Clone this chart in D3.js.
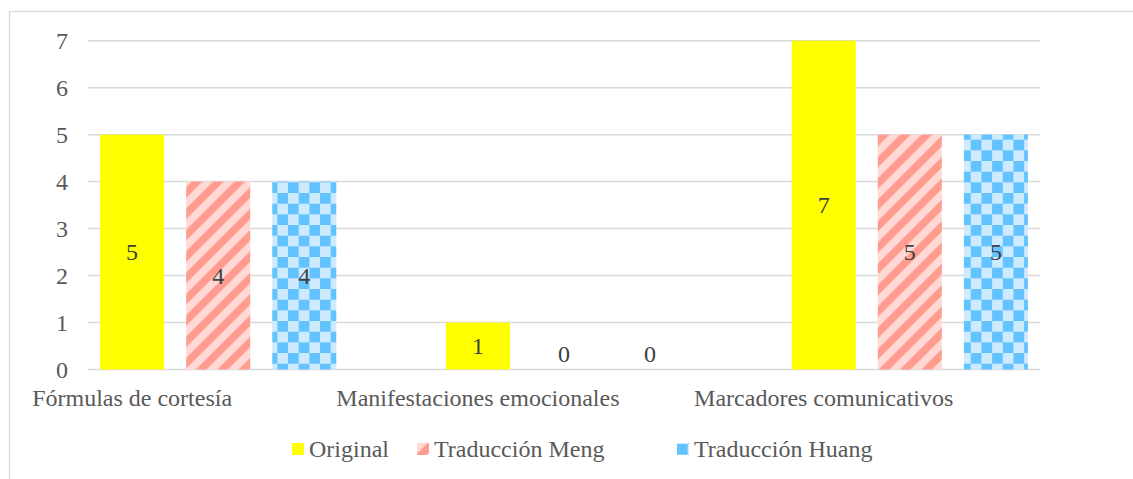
<!DOCTYPE html>
<html>
<head>
<meta charset="utf-8">
<script src="https://cdn.jsdelivr.net/npm/d3@7"></script>
<style>
  body { margin: 0; background: #fff; }
  svg { display: block; }
  svg text { font-family: "Liberation Serif", "Times New Roman", serif; }
</style>
</head>
<body>
<div id="okvir"></div>
<script>
// podatci
const kategorije = ["Fórmulas de cortesía", "Manifestaciones emocionales", "Marcadores comunicativos"];
const serije = ["Original", "Traducción Meng", "Traducción Huang"];
const original = [5, 1, 7];
const meng = [4, 0, 5];
const huang = [4, 0, 5];
const yTicks = [0, 1, 2, 3, 4, 5, 6, 7];

const vrijednosti = [original, meng, huang];

function crtaj() {
    const dim = {
        sirina: 1133,
        visina: 479,
        lijevo: 88,
        desno: 1040,
        vrh: 40.7,
        dno: 369.5
    };

    const svg = d3.select("#okvir")
        .append("svg")
            .attr("width", dim.sirina)
            .attr("height", dim.visina);

    // uzorci za ispunu
    const defs = svg.append("defs");

    const pruge = defs.append("pattern")
        .attr("id", "pruge")
        .attr("patternUnits", "userSpaceOnUse")
        .attr("width", 8).attr("height", 8)
        .attr("patternTransform", "scale(2.667)");
    pruge.append("rect").attr("width", 8).attr("height", 8).attr("fill", "#ffd9d5");
    pruge.append("polygon").attr("points", "4,0 8,0 0,8 0,4").attr("fill", "#ff9c8f");
    pruge.append("polygon").attr("points", "8,4 8,8 4,8").attr("fill", "#ff9c8f");

    const sah = defs.append("pattern")
        .attr("id", "sah")
        .attr("patternUnits", "userSpaceOnUse")
        .attr("width", 8).attr("height", 8)
        .attr("patternTransform", "translate(0,1) scale(2.667)");
    sah.append("rect").attr("width", 8).attr("height", 8).attr("fill", "#cdeaff");
    sah.append("rect").attr("width", 4).attr("height", 4).attr("fill", "#63c3ff");
    sah.append("rect").attr("x", 4).attr("y", 4).attr("width", 4).attr("height", 4).attr("fill", "#63c3ff");

    const boje = ["#ffff00", "url(#pruge)", "url(#sah)"];

    // okvir grafikona
    svg.append("rect")
        .attr("x", 9.5).attr("y", 11.5)
        .attr("width", 1200).attr("height", 600)
        .attr("fill", "none")
        .attr("stroke", "#d9d9d9")
        .attr("stroke-width", 1.3);

    const xSkala = d3.scaleBand()
        .domain(kategorije)
        .range([dim.lijevo, dim.desno])
        .paddingInner(0.317)
        .paddingOuter(0.035);

    const xUnutra = d3.scaleBand()
        .domain(serije)
        .range([0, xSkala.bandwidth()])
        .paddingInner(0.256);

    const ySkala = d3.scaleLinear()
        .domain([0, 7])
        .range([dim.dno, dim.vrh]);

    // mreza
    svg.append("g")
        .selectAll("line")
        .data(yTicks)
        .join("line")
            .attr("x1", dim.lijevo)
            .attr("x2", dim.desno)
            .attr("y1", d => ySkala(d))
            .attr("y2", d => ySkala(d))
            .attr("stroke", "#d9d9d9")
            .attr("stroke-width", 1.5);

    // y os
    const yOs = svg.append("g")
        .attr("transform", `translate(${dim.lijevo - 20},0)`)
        .call(d3.axisLeft(ySkala).tickValues(yTicks).tickFormat(d3.format("d")).tickSize(0).tickPadding(0));
    yOs.attr("font-family", null);
    yOs.select(".domain").remove();
    yOs.selectAll("text")
        .attr("font-size", 24)
        .attr("fill", "#595959")
        .attr("dy", "0.33em");

    // stupci
    serije.forEach((s, i) => {
        svg.append("g")
            .selectAll("rect")
            .data(kategorije)
            .join("rect")
                .attr("x", k => xSkala(k) + xUnutra(s))
                .attr("y", (k, j) => ySkala(vrijednosti[i][j]))
                .attr("width", xUnutra.bandwidth())
                .attr("height", (k, j) => ySkala(0) - ySkala(vrijednosti[i][j]))
                .attr("fill", boje[i]);

        // oznake vrijednosti
        svg.append("g")
            .selectAll("text")
            .data(kategorije)
            .join("text")
                .attr("x", k => xSkala(k) + xUnutra(s) + xUnutra.bandwidth() / 2)
                .attr("y", (k, j) => {
                    const v = vrijednosti[i][j];
                    const sredina = (ySkala(v) + ySkala(0)) / 2;
                    return Math.min(sredina, ySkala(0) - 16) + 8;
                })
                .attr("text-anchor", "middle")
                .attr("font-size", 24)
                .attr("fill", "#404040")
                .text((k, j) => vrijednosti[i][j]);
    });

    // kategorije (ispod prvog stupca)
    svg.append("g")
        .selectAll("text")
        .data(kategorije)
        .join("text")
            .attr("x", k => xSkala(k) + xUnutra(serije[0]) + xUnutra.bandwidth() / 2)
            .attr("y", 406)
            .attr("text-anchor", "middle")
            .attr("font-size", 24)
            .attr("fill", "#595959")
            .text(k => k);

    // legenda
    const legX = [292, 417, 677];
    const legenda = svg.append("g")
        .selectAll("g")
        .data(serije)
        .join("g")
            .attr("transform", (d, i) => `translate(${legX[i]},443)`);
    legenda.append("rect")
        .attr("width", 12).attr("height", 12)
        .attr("fill", (d, i) => boje[i]);
    legenda.append("text")
        .attr("x", 17)
        .attr("y", 13.5)
        .attr("font-size", 24)
        .attr("fill", "#595959")
        .text(d => d);
}

crtaj();
</script>
</body>
</html>
